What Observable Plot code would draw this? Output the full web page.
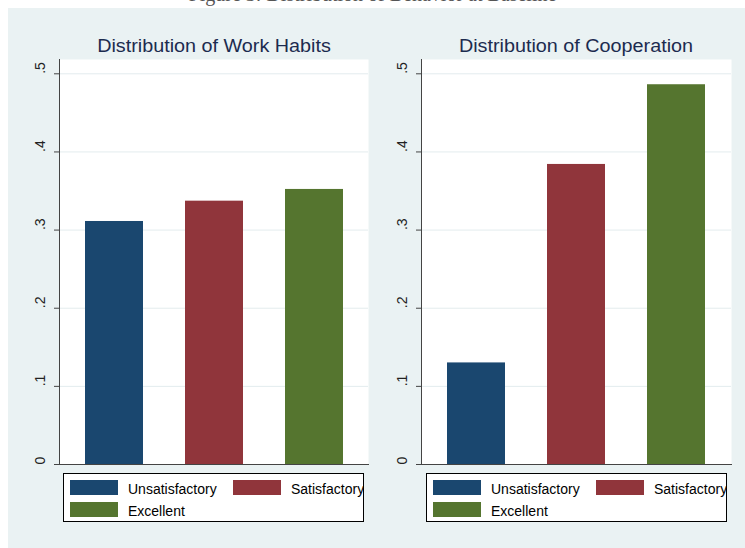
<!DOCTYPE html>
<html><head><meta charset="utf-8">
<script src="https://cdn.jsdelivr.net/npm/d3@7"></script>
<script src="https://cdn.jsdelivr.net/npm/@observablehq/plot@0.6"></script>
<style>
html,body{margin:0;padding:0;background:#fff;width:745px;height:548px;overflow:hidden;font-family:"Liberation Sans",Arial,sans-serif;}
#page{position:relative;width:745px;height:548px;overflow:hidden;}
#panel{position:absolute;left:8px;top:8px;width:737px;height:540px;background:#eaf2f3;}
.caption{position:absolute;left:0;width:745px;top:-16.5px;line-height:20px;text-align:center;font-family:"Liberation Serif",serif;font-size:20px;color:#555;white-space:nowrap;}
.chart{position:absolute;top:8px;}
.title{position:absolute;top:36px;width:300px;text-align:center;font-size:17.5px;line-height:20px;color:#1c2b4f;transform:scaleX(1.13);white-space:nowrap;}
.legend{position:absolute;top:473px;width:299px;height:47px;border:1px solid #000;background:#fff;overflow:hidden;}
.sw{position:absolute;width:48px;height:15px;}
.lt{position:absolute;font-size:14px;line-height:16px;color:#000;white-space:nowrap;}
</style>
</head><body>
<div id="page">
  <div class="caption">Figure 3: Distribution of Behavior at Baseline</div>
  <div id="panel"></div>
</div>
<script>
const categories = ["Unsatisfactory", "Satisfactory", "Excellent"];
const colors = ["#1a476f", "#90353b", "#55752f"];
const workHabits = [0.311, 0.337, 0.352];
const cooperation = [0.130, 0.384, 0.486];
const yTicks = [0, 0.1, 0.2, 0.3, 0.4, 0.5];
const yTickLabels = ["0", ".1", ".2", ".3", ".4", ".5"];
const titles = ["Distribution of Work Habits", "Distribution of Cooperation"];

function chart(values, width, ml, mr) {
  const data = categories.map((c, i) => ({cat: c, value: values[i]}));
  const ticks = yTicks.map((v, i) => ({v, label: yTickLabels[i]}));
  return Plot.plot({
    width, height: 470, marginLeft: ml, marginRight: mr, marginTop: 51, marginBottom: 14,
    style: {background: "transparent", overflow: "visible", fontFamily: "Liberation Sans, Arial, sans-serif"},
    x: {type: "band", domain: categories, paddingInner: 0.42, paddingOuter: 0.25, axis: null},
    y: {domain: [0, 0.5183]},
    color: {domain: categories, range: colors},
    marks: [
      Plot.frame({fill: "white", stroke: null}),
      Plot.gridY(yTicks.slice(1), {stroke: "#e3ecee", strokeOpacity: 1}),
      Plot.barY(data, {x: "cat", y: "value", fill: "cat"}),
      Plot.axisY(yTicks, {tickSize: 5, tickFormat: () => "", label: null, stroke: "#444"}),
      Plot.text(ticks, {y: "v", text: "label", frameAnchor: "left", dx: -19, rotate: -90, fontSize: 14, fill: "#222"}),
      Plot.frame({anchor: "left", stroke: "#444"}),
      Plot.frame({anchor: "bottom", stroke: "#444"})
    ]
  });
}

const page = document.getElementById("page");
const panels = [
  {values: workHabits, left: 8, width: 368, ml: 51, mr: 8, center: 213.5, legendLeft: 63},
  {values: cooperation, left: 376, width: 369, ml: 45, mr: 14, center: 576, legendLeft: 426}
];
panels.forEach((p, k) => {
  const svg = chart(p.values, p.width, p.ml, p.mr);
  const wrap = document.createElement("div");
  wrap.className = "chart";
  wrap.style.left = p.left + "px";
  wrap.appendChild(svg);
  page.appendChild(wrap);

  const t = document.createElement("div");
  t.className = "title";
  t.style.left = (p.center - 150) + "px";
  t.textContent = titles[k];
  page.appendChild(t);

  const lg = document.createElement("div");
  lg.className = "legend";
  lg.style.left = p.legendLeft + "px";
  const pos = [[6, 6, 64], [169, 6, 227], [6, 28, 64]];
  categories.forEach((c, i) => {
    const sw = document.createElement("div");
    sw.className = "sw";
    sw.style.left = pos[i][0] + "px";
    sw.style.top = pos[i][1] + "px";
    sw.style.background = colors[i];
    lg.appendChild(sw);
    const tx = document.createElement("div");
    tx.className = "lt";
    tx.style.left = pos[i][2] + "px";
    tx.style.top = (pos[i][1] + 0.5) + "px";
    tx.textContent = c;
    lg.appendChild(tx);
  });
  page.appendChild(lg);
});
</script>
</body></html>
